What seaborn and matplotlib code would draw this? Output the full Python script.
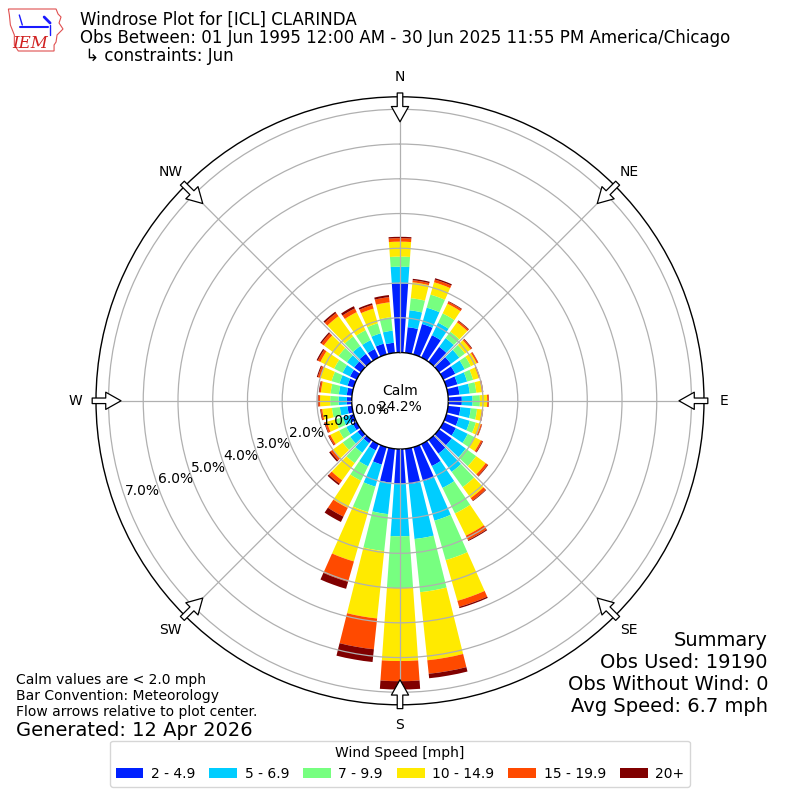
import numpy as np
import pandas as pd
import seaborn as sns
import matplotlib
matplotlib.use('Agg')
import matplotlib.pyplot as plt
from matplotlib.patches import Patch, Polygon

# direction bins (degrees, meteorological)
directions = list(range(0, 360, 10))

# frequency (%) per speed bin
spd_2_5 = [1.99, 0.74, 0.91, 0.71, 0.53, 0.42, 0.38, 0.33, 0.33, 0.39, 0.36, 0.37,
           0.40, 0.45, 0.49, 0.70, 1.02, 1.02, 1.00, 0.98, 0.52, 0.20, 0.12, 0.12,
           0.12, 0.12, 0.13, 0.14, 0.15, 0.18, 0.21, 0.24, 0.28, 0.27, 0.32, 0.29]
spd_5_7 = [0.48, 0.49, 0.49, 0.40, 0.31, 0.30, 0.30, 0.29, 0.30, 0.31, 0.30, 0.33,
           0.38, 0.50, 0.65, 0.70, 1.18, 1.59, 1.51, 0.91, 0.66, 0.51, 0.34, 0.26,
           0.21, 0.20, 0.22, 0.24, 0.23, 0.24, 0.24, 0.26, 0.28, 0.28, 0.31, 0.35]
spd_7_10 = [0.29, 0.35, 0.39, 0.30, 0.23, 0.20, 0.20, 0.18, 0.19, 0.21, 0.18, 0.18,
            0.22, 0.37, 0.54, 0.82, 1.18, 1.54, 1.49, 1.07, 0.76, 0.46, 0.37, 0.27,
            0.23, 0.22, 0.23, 0.24, 0.24, 0.24, 0.27, 0.30, 0.34, 0.32, 0.30, 0.39]
spd_10_15 = [0.43, 0.46, 0.37, 0.31, 0.33, 0.20, 0.19, 0.17, 0.16, 0.21, 0.14, 0.15,
             0.20, 0.34, 0.39, 0.71, 1.22, 1.97, 2.10, 1.95, 1.48, 0.87, 0.61, 0.35,
             0.28, 0.26, 0.28, 0.29, 0.28, 0.34, 0.44, 0.52, 0.72, 0.58, 0.44, 0.43]
spd_15_20 = [0.10, 0.06, 0.08, 0.06, 0.05, 0.04, 0.04, 0.03, 0.03, 0.04, 0.03, 0.03,
             0.05, 0.07, 0.09, 0.14, 0.18, 0.39, 0.58, 0.89, 0.61, 0.28, 0.12, 0.08,
             0.05, 0.06, 0.04, 0.05, 0.04, 0.07, 0.08, 0.09, 0.11, 0.12, 0.11, 0.15]
spd_20p = [0.04, 0.04, 0.04, 0.02, 0.02, 0.02, 0.01, 0.01, 0.01, 0.01, 0.01, 0.01,
           0.02, 0.02, 0.02, 0.03, 0.04, 0.13, 0.24, 0.37, 0.21, 0.17, 0.05, 0.05,
           0.02, 0.02, 0.02, 0.02, 0.02, 0.03, 0.04, 0.04, 0.05, 0.07, 0.05, 0.06]

speed_labels = ['2 - 4.9', '5 - 6.9', '7 - 9.9', '10 - 14.9', '15 - 19.9', '20+']
compass_labels = ['N', 'NE', 'E', 'SE', 'S', 'SW', 'W', 'NW']
rticks = [0, 1, 2, 3, 4, 5, 6, 7]
calm_pct = 24.2

df = pd.DataFrame({'dir': directions})
for lab, vals in zip(speed_labels, [spd_2_5, spd_5_7, spd_7_10, spd_10_15, spd_15_20, spd_20p]):
    df[lab] = vals

sns.set_theme(style='white')
plt.rcParams['font.family'] = ['DejaVu Sans']
plt.rcParams['text.color'] = 'black'
plt.rcParams['legend.edgecolor'] = '#cccccc'
colors = plt.get_cmap('jet')(np.linspace(0.16, 1.0, 6))

fig = plt.figure(figsize=(8, 8), dpi=100)
ax = fig.add_axes([0.12, 0.119, 0.76, 0.76], projection='polar')
ax.set_theta_zero_location('N')
ax.set_theta_direction(-1)

rmax = 7.36
ax.set_ylim(0, rmax)
ax.set_rorigin(-1.39)

theta = np.deg2rad(df['dir'])
width = np.deg2rad(8)
bottom = np.zeros(len(df))
for lab, c in zip(speed_labels, colors):
    ax.bar(theta, df[lab], width=width, bottom=bottom, color=c, linewidth=0, zorder=1)
    bottom = bottom + df[lab].values

ax.set_xticks(np.deg2rad(np.arange(0, 360, 45)))
ax.set_xticklabels([])
ax.set_yticks(rticks[1:])
ax.set_yticklabels([])
ax.grid(True, color='#b0b0b0', linewidth=0.9)
ax.set_axisbelow(False)
for sp in ax.spines.values():
    sp.set_color('black')
    sp.set_linewidth(1.0)

# radial labels
lab_ang = np.deg2rad(250.6)
for k in rticks:
    ax.text(lab_ang, k, f'{k:.1f}%', ha='left', va='bottom', fontsize=10, zorder=5)

# compass labels
for i, lab in enumerate(compass_labels):
    ax.text(np.deg2rad(i * 45), 7.94, lab, ha='center', va='center', fontsize=10, clip_on=False)

# flow arrows
for i in range(8):
    t = np.deg2rad(i * 45)
    ax.annotate('', xy=(t, 6.64), xytext=(t, 7.47), annotation_clip=False,
                arrowprops=dict(arrowstyle='simple,head_width=0.62,head_length=0.55,tail_width=0.2',
                                mutation_scale=20, fc='white', ec='black', lw=0.9,
                                shrinkA=0, shrinkB=0), zorder=6)

fig.text(0.5, 1 - 399 / 800, f'Calm\n{calm_pct}%', ha='center', va='center', fontsize=10)

# header
fig.text(0.1, 1 - 20 / 800, 'Windrose Plot for [ICL] CLARINDA', fontsize=12, va='center')
fig.text(0.1, 1 - 38 / 800, 'Obs Between: 01 Jun 1995 12:00 AM - 30 Jun 2025 11:55 PM America/Chicago',
         fontsize=12, va='center')
fig.text(0.1, 1 - 56 / 800, ' \u21b3 constraints: Jun', fontsize=12, va='center')

# logo
lax = fig.add_axes([0.008, 1 - 52 / 800, 0.072, 47 / 800])
lax.set_xlim(0, 58)
lax.set_ylim(47, 0)
lax.axis('off')
iowa = [(2, 4), (50, 4), (52, 9), (55, 12), (53, 18), (57, 24), (51, 30), (50, 37),
        (48, 40), (48, 46), (12, 46), (8, 40), (8, 30), (4, 20), (3, 10)]
lax.add_patch(Polygon(iowa, closed=True, fill=False, ec='#e05050', lw=0.8))
lax.plot([14, 42], [22, 22], color='#1a1aff', lw=1.5)
lax.plot([13, 16], [10, 20], color='#1a1aff', lw=1)
lax.plot([38, 44], [12, 18], color='#1a1aff', lw=2)
lax.plot([44, 44], [20, 30], color='#1a1aff', lw=1)
lax.text(24, 38, 'IEM', color='#d02020', fontsize=12, family='DejaVu Serif',
         style='italic', ha='center', va='center')

# footer notes
fig.text(0.02, 1 - 680 / 800, 'Calm values are < 2.0 mph', fontsize=10, va='center')
fig.text(0.02, 1 - 696 / 800, 'Bar Convention: Meteorology', fontsize=10, va='center')
fig.text(0.02, 1 - 712 / 800, 'Flow arrows relative to plot center.', fontsize=10, va='center')
fig.text(0.02, 1 - 730 / 800, 'Generated: 12 Apr 2026', fontsize=14, va='center')

summary = ['Summary', 'Obs Used: 19190', 'Obs Without Wind: 0', 'Avg Speed: 6.7 mph']
for i, s in enumerate(summary):
    fig.text(0.96, 1 - (640 + 22 * i) / 800, s, fontsize=14, ha='right', va='center')

handles = [Patch(facecolor=c, edgecolor='none') for c in colors]
fig.legend(handles, speed_labels, loc='lower center', bbox_to_anchor=(0.5, 0.008), ncol=6,
           title='Wind Speed [mph]', fontsize=10, title_fontsize=10,
           handletextpad=0.55, columnspacing=1.0, frameon=True)

fig.savefig('out.png', dpi=100)
